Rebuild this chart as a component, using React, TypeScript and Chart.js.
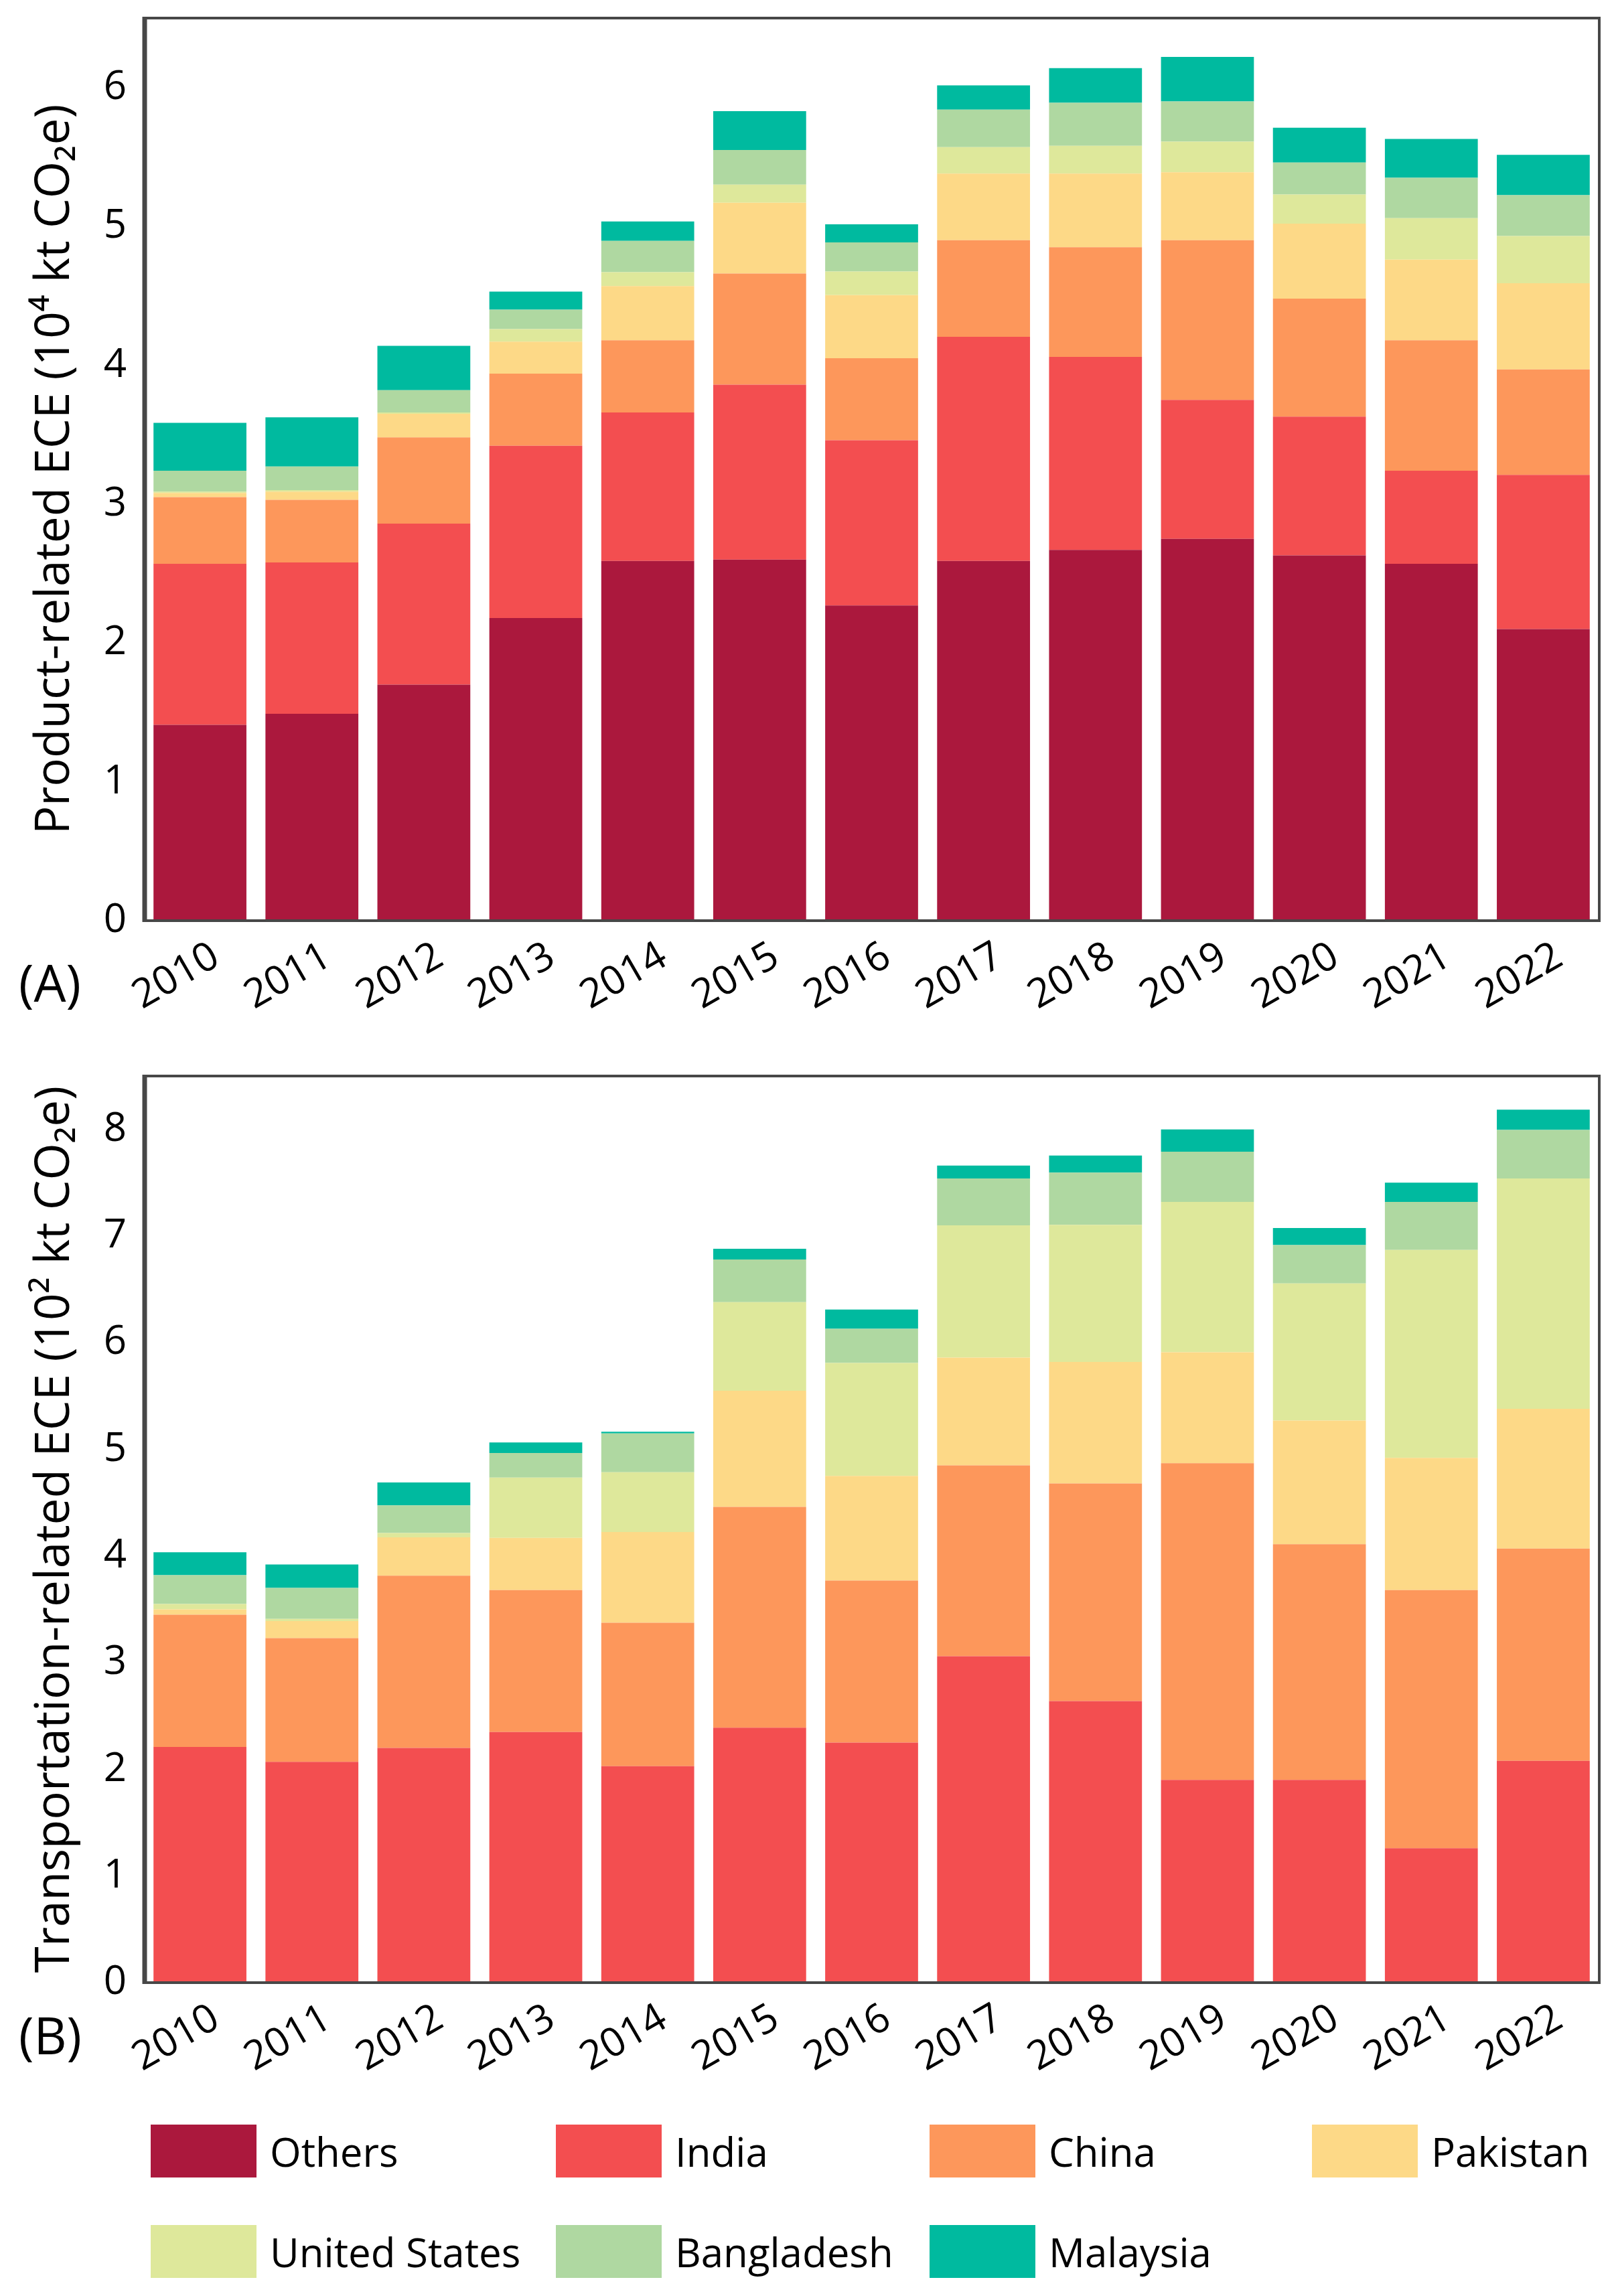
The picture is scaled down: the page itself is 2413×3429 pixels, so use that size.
import React, { useEffect, useRef } from 'react';
import { Chart, registerables } from 'chart.js';

Chart.register(...registerables);

const FONT = "'Open Sans', 'DejaVu Sans', sans-serif";

const years = ['2010', '2011', '2012', '2013', '2014', '2015', '2016', '2017', '2018', '2019', '2020', '2021', '2022'];
const countries = ['Others', 'India', 'China', 'Pakistan', 'United States', 'Bangladesh', 'Malaysia'];
const colors = ['#AB183D', '#F34E50', '#FD975B', '#FDD987', '#DEE89B', '#AFD8A1', '#00BA9F'];

// (A) product-related ECE, 10^4 kt CO2e
const productOthers = [1.41, 1.49, 1.70, 2.18, 2.59, 2.60, 2.27, 2.59, 2.67, 2.75, 2.63, 2.57, 2.10];
const productIndia = [1.16, 1.09, 1.16, 1.24, 1.07, 1.26, 1.19, 1.615, 1.39, 1.00, 1.00, 0.67, 1.11];
const productChina = [0.48, 0.45, 0.62, 0.52, 0.52, 0.80, 0.59, 0.695, 0.79, 1.15, 0.85, 0.94, 0.76];
const productPakistan = [0.03, 0.06, 0.17, 0.23, 0.39, 0.51, 0.455, 0.48, 0.53, 0.49, 0.54, 0.58, 0.62];
const productUS = [0.01, 0.01, 0.01, 0.09, 0.10, 0.13, 0.17, 0.19, 0.20, 0.22, 0.21, 0.30, 0.34];
const productBangladesh = [0.15, 0.17, 0.16, 0.14, 0.225, 0.25, 0.21, 0.27, 0.31, 0.29, 0.23, 0.29, 0.295];
const productMalaysia = [0.345, 0.355, 0.32, 0.13, 0.14, 0.28, 0.13, 0.175, 0.25, 0.32, 0.25, 0.28, 0.29];

// (B) transportation-related ECE, 10^2 kt CO2e
const transOthers = [0, 0, 0, 0, 0, 0, 0, 0, 0, 0, 0, 0, 0];
const transIndia = [2.21, 2.07, 2.20, 2.35, 2.03, 2.39, 2.25, 3.06, 2.64, 1.90, 1.90, 1.26, 2.08];
const transChina = [1.24, 1.16, 1.615, 1.33, 1.345, 2.07, 1.52, 1.79, 2.04, 2.97, 2.21, 2.42, 1.99];
const transPakistan = [0.05, 0.16, 0.36, 0.49, 0.85, 1.09, 0.98, 1.01, 1.14, 1.04, 1.16, 1.24, 1.31];
const transUS = [0.05, 0.02, 0.04, 0.565, 0.56, 0.83, 1.06, 1.24, 1.285, 1.41, 1.285, 1.95, 2.16];
const transBangladesh = [0.27, 0.29, 0.26, 0.23, 0.365, 0.40, 0.32, 0.44, 0.49, 0.47, 0.36, 0.45, 0.455];
const transMalaysia = [0.215, 0.22, 0.215, 0.10, 0.015, 0.10, 0.18, 0.12, 0.16, 0.21, 0.16, 0.18, 0.19];

const productSeries = [productOthers, productIndia, productChina, productPakistan, productUS, productBangladesh, productMalaysia];
const transSeries = [transOthers, transIndia, transChina, transPakistan, transUS, transBangladesh, transMalaysia];

// box around the plot area
const framePlugin = {
  id: 'frame',
  afterDraw(chart: any) {
    const { ctx, chartArea: a } = chart;
    ctx.save();
    ctx.strokeStyle = '#474747';
    ctx.lineWidth = 4;
    ctx.strokeRect(a.left, a.top, a.right - a.left, a.bottom - a.top);
    ctx.lineWidth = 7;
    ctx.beginPath();
    ctx.moveTo(a.left + 1, a.top - 2);
    ctx.lineTo(a.left + 1, a.bottom + 2);
    ctx.stroke();
    ctx.restore();
  },
};

type PanelProps = {
  series: number[][];
  yMax: number;
  title: string;
  height: number;
  padTop: number;
  xAxisHeight: number;
};

function StackPanel({ series, yMax, title, height, padTop, xAxisHeight }: PanelProps) {
  const canvasRef = useRef<HTMLCanvasElement>(null);

  useEffect(() => {
    if (!canvasRef.current) return;
    const chart = new Chart(canvasRef.current, {
      type: 'bar',
      data: {
        labels: years,
        datasets: countries.map((name, i) => ({
          label: name,
          data: series[i],
          backgroundColor: colors[i],
          borderWidth: 0,
          categoryPercentage: 1,
          barPercentage: 0.83,
        })),
      },
      options: {
        animation: false,
        responsive: false,
        devicePixelRatio: 1,
        layout: { padding: { left: 0, right: 25, top: padTop, bottom: 0 } },
        plugins: { legend: { display: false }, tooltip: { enabled: false } },
        scales: {
          x: {
            stacked: true,
            grid: { display: false },
            border: { display: false },
            afterFit: (s: any) => { s.height = xAxisHeight; },
            ticks: {
              autoSkip: false,
              minRotation: 30,
              maxRotation: 30,
              labelOffset: 24,
              padding: 10,
              color: '#000',
              font: { family: FONT, size: 60 },
            },
          },
          y: {
            stacked: true,
            min: 0,
            max: yMax,
            grid: { display: false },
            border: { display: false },
            afterFit: (s: any) => { s.width = 215; },
            afterBuildTicks: (s: any) => { s.ticks = s.ticks.filter((t: any) => Number.isInteger(t.value)); },
            ticks: {
              stepSize: 1,
              padding: 18,
              color: '#000',
              font: { family: FONT, size: 60 },
            },
            title: {
              display: true,
              text: title,
              color: '#000',
              font: { family: FONT, size: 71 },
              padding: { top: 40, bottom: 0 },
            },
          },
        },
      },
      plugins: [framePlugin],
    });
    return () => chart.destroy();
  }, [series, yMax, title, height, padTop, xAxisHeight]);

  return <canvas ref={canvasRef} width={2413} height={height} style={{ display: 'block', width: 2413, height }} />;
}

const legendCols = [225, 830, 1388, 1959];
const legendRows = [3213, 3363];

export default function App() {
  useEffect(() => {
    document.body.style.margin = '0';
  }, []);

  return (
    <div style={{ position: 'relative', width: 2413, height: 3429, background: '#fff', fontFamily: FONT, overflow: 'hidden' }}>
      <div style={{ position: 'absolute', top: -27, left: 0 }}>
        <StackPanel
          series={productSeries}
          yMax={6.5}
          title="Product-related ECE (10⁴ kt CO₂e)"
          height={1567}
          padTop={21}
          xAxisHeight={165}
        />
      </div>
      <div style={{ position: 'absolute', top: 1540, left: 0 }}>
        <StackPanel
          series={transSeries}
          yMax={8.5}
          title="Transportation-related ECE (10² kt CO₂e)"
          height={1600}
          padTop={67}
          xAxisHeight={179}
        />
      </div>
      <div style={{ position: 'absolute', left: 28, top: 1429, fontSize: 76, lineHeight: 1 }}>(A)</div>
      <div style={{ position: 'absolute', left: 28, top: 3001, fontSize: 76, lineHeight: 1 }}>(B)</div>
      {countries.map((name, i) => (
        <div
          key={name}
          style={{
            position: 'absolute',
            left: legendCols[i % 4],
            top: legendRows[Math.floor(i / 4)] - 40,
            height: 79,
            display: 'flex',
            alignItems: 'center',
          }}
        >
          <div style={{ width: 158, height: 79, background: colors[i], marginRight: 20 }} />
          <span style={{ fontSize: 60, lineHeight: 1, whiteSpace: 'nowrap' }}>{name}</span>
        </div>
      ))}
    </div>
  );
}
